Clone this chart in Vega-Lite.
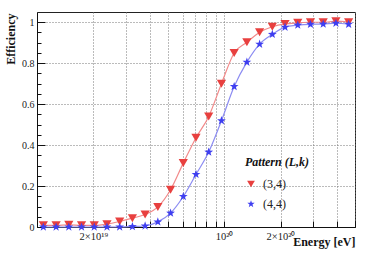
{
  "$schema": "https://vega.github.io/schema/vega-lite/v6.json",
  "autosize": "none",
  "width": 318,
  "height": 215,
  "padding": {"left": 37, "top": 12, "right": 19, "bottom": 26},
  "background": "white",
  "config": {
    "font": "Liberation Serif",
    "view": {"stroke": "#222", "strokeWidth": 1},
    "axis": {"labelFont": "Liberation Serif", "titleFont": "Liberation Serif", "labelColor": "#222", "titleColor": "#111", "domainColor": "#111", "tickColor": "#111"}
  },
  "data": {"values": [
    {"energy": 1.081e19, "eff": 0.008, "pattern": "(3,4)"},
    {"energy": 1.265e19, "eff": 0.008, "pattern": "(3,4)"},
    {"energy": 1.479e19, "eff": 0.011, "pattern": "(3,4)"},
    {"energy": 1.730e19, "eff": 0.008, "pattern": "(3,4)"},
    {"energy": 2.022e19, "eff": 0.008, "pattern": "(3,4)"},
    {"energy": 2.365e19, "eff": 0.014, "pattern": "(3,4)"},
    {"energy": 2.765e19, "eff": 0.027, "pattern": "(3,4)"},
    {"energy": 3.234e19, "eff": 0.043, "pattern": "(3,4)"},
    {"energy": 3.781e19, "eff": 0.061, "pattern": "(3,4)"},
    {"energy": 4.422e19, "eff": 0.098, "pattern": "(3,4)"},
    {"energy": 5.171e19, "eff": 0.182, "pattern": "(3,4)"},
    {"energy": 6.047e19, "eff": 0.312, "pattern": "(3,4)"},
    {"energy": 7.071e19, "eff": 0.436, "pattern": "(3,4)"},
    {"energy": 8.269e19, "eff": 0.540, "pattern": "(3,4)"},
    {"energy": 9.670e19, "eff": 0.700, "pattern": "(3,4)"},
    {"energy": 1.1308e20, "eff": 0.850, "pattern": "(3,4)"},
    {"energy": 1.3223e20, "eff": 0.902, "pattern": "(3,4)"},
    {"energy": 1.5464e20, "eff": 0.951, "pattern": "(3,4)"},
    {"energy": 1.8083e20, "eff": 0.978, "pattern": "(3,4)"},
    {"energy": 2.1145e20, "eff": 0.992, "pattern": "(3,4)"},
    {"energy": 2.4727e20, "eff": 0.997, "pattern": "(3,4)"},
    {"energy": 2.8916e20, "eff": 1.0, "pattern": "(3,4)"},
    {"energy": 3.3813e20, "eff": 1.0, "pattern": "(3,4)"},
    {"energy": 3.9543e20, "eff": 1.005, "pattern": "(3,4)"},
    {"energy": 4.6242e20, "eff": 1.0, "pattern": "(3,4)"},
    {"energy": 1.081e19, "eff": 0.0, "pattern": "(4,4)"},
    {"energy": 1.265e19, "eff": 0.0, "pattern": "(4,4)"},
    {"energy": 1.479e19, "eff": 0.0, "pattern": "(4,4)"},
    {"energy": 1.730e19, "eff": 0.0, "pattern": "(4,4)"},
    {"energy": 2.022e19, "eff": 0.0, "pattern": "(4,4)"},
    {"energy": 2.365e19, "eff": 0.0, "pattern": "(4,4)"},
    {"energy": 2.765e19, "eff": 0.0, "pattern": "(4,4)"},
    {"energy": 3.234e19, "eff": 0.002, "pattern": "(4,4)"},
    {"energy": 3.781e19, "eff": 0.005, "pattern": "(4,4)"},
    {"energy": 4.422e19, "eff": 0.025, "pattern": "(4,4)"},
    {"energy": 5.171e19, "eff": 0.068, "pattern": "(4,4)"},
    {"energy": 6.047e19, "eff": 0.149, "pattern": "(4,4)"},
    {"energy": 7.071e19, "eff": 0.257, "pattern": "(4,4)"},
    {"energy": 8.269e19, "eff": 0.366, "pattern": "(4,4)"},
    {"energy": 9.670e19, "eff": 0.519, "pattern": "(4,4)"},
    {"energy": 1.1308e20, "eff": 0.686, "pattern": "(4,4)"},
    {"energy": 1.3223e20, "eff": 0.805, "pattern": "(4,4)"},
    {"energy": 1.5464e20, "eff": 0.893, "pattern": "(4,4)"},
    {"energy": 1.8083e20, "eff": 0.941, "pattern": "(4,4)"},
    {"energy": 2.1145e20, "eff": 0.976, "pattern": "(4,4)"},
    {"energy": 2.4727e20, "eff": 0.986, "pattern": "(4,4)"},
    {"energy": 2.8916e20, "eff": 0.990, "pattern": "(4,4)"},
    {"energy": 3.3813e20, "eff": 0.991, "pattern": "(4,4)"},
    {"energy": 3.9543e20, "eff": 0.995, "pattern": "(4,4)"},
    {"energy": 4.6242e20, "eff": 0.990, "pattern": "(4,4)"}
  ]},
  "encoding": {
    "x": {
      "field": "energy", "type": "quantitative",
      "scale": {"type": "log", "domain": [1e19, 5e20], "nice": false},
      "axis": {
        "title": "Energy [eV]",
        "titleFontWeight": "bold", "titleFontSize": 12,
        "titleAnchor": "end", "titleAlign": "right", "titleBaseline": "alphabetic",
        "titleX": 318, "titleY": 18,
        "values": [1e19, 2e19, 3e19, 4e19, 5e19, 6e19, 7e19, 8e19, 9e19, 1e20, 2e20, 3e20, 4e20, 5e20],
        "labelExpr": "abs(datum.value/2e19 - 1) < 1e-6 ? '2×10¹⁹' : (abs(datum.value/1e20 - 1) < 1e-6 ? '10²⁰' : (abs(datum.value/2e20 - 1) < 1e-6 ? '2×10²⁰' : ''))",
        "labelFontSize": 10.5, "labelPadding": 10,
        "tickSize": -6,
        "grid": true, "gridDash": [1, 2], "gridColor": "#777", "gridWidth": 1
      }
    },
    "y": {
      "field": "eff", "type": "quantitative",
      "scale": {"domain": [0, 1.05], "nice": false, "zero": false},
      "axis": {
        "title": "Efficiency",
        "titleFontWeight": "bold", "titleFontSize": 12,
        "titleAnchor": "end", "titleAngle": -90, "titleAlign": "right", "titleBaseline": "bottom",
        "titleX": -20, "titleY": 1,
        "values": [0, 0.05, 0.1, 0.15, 0.2, 0.25, 0.3, 0.35, 0.4, 0.45, 0.5, 0.55, 0.6, 0.65, 0.7, 0.75, 0.8, 0.85, 0.9, 0.95, 1],
        "format": "~g",
        "labelExpr": "abs(datum.value*5 - round(datum.value*5)) < 0.001 ? datum.label : ''",
        "labelFontSize": 10, "labelPadding": 11,
        "tickSize": {"condition": {"test": "abs(datum.value*5 - round(datum.value*5)) < 0.001", "value": -8}, "value": -4},
        "grid": true, "gridDash": [1, 2], "gridColor": "#777", "gridWidth": 1,
        "gridOpacity": {"condition": {"test": "abs(datum.value*5 - round(datum.value*5)) < 0.001", "value": 1}, "value": 0}
      }
    }
  },
  "layer": [
    {
      "mark": {"type": "line", "interpolate": "monotone", "strokeWidth": 1.2},
      "encoding": {
        "stroke": {"field": "pattern", "type": "nominal", "scale": {"domain": ["(4,4)", "(3,4)"], "range": ["#8c8cf2", "#f28a8a"]}, "legend": null}
      }
    },
    {
      "mark": {"type": "point", "filled": true, "opacity": 1, "size": 85},
      "encoding": {
        "color": {"field": "pattern", "type": "nominal", "scale": {"domain": ["(3,4)", "(4,4)"], "range": ["#e8403f", "#3f3ff0"]},
          "legend": {"title": "Pattern (L,k)", "orient": "none", "legendX": 208, "legendY": 145, "padding": 0,
            "titleFont": "Liberation Serif", "titleFontWeight": "bold", "titleFontStyle": "italic", "titleFontSize": 12, "titleColor": "#111",
            "titlePadding": 9, "labelFont": "Liberation Serif", "labelFontSize": 12, "labelColor": "#222", "labelOffset": 6, "rowPadding": 8, "symbolSize": 60}},
        "shape": {"field": "pattern", "type": "nominal", "scale": {"domain": ["(3,4)", "(4,4)"], "range": ["triangle-down", "M0,-1L0.235,-0.324L0.951,-0.309L0.38,0.124L0.588,0.809L0,0.4L-0.588,0.809L-0.38,0.124L-0.951,-0.309L-0.235,-0.324Z"]},
          "legend": {"title": "Pattern (L,k)", "orient": "none", "legendX": 208, "legendY": 145, "padding": 0,
            "titleFont": "Liberation Serif", "titleFontWeight": "bold", "titleFontStyle": "italic", "titleFontSize": 12, "titleColor": "#111",
            "titlePadding": 9, "labelFont": "Liberation Serif", "labelFontSize": 12, "labelColor": "#222", "labelOffset": 6, "rowPadding": 8, "symbolSize": 60}}
      }
    }
  ]
}
